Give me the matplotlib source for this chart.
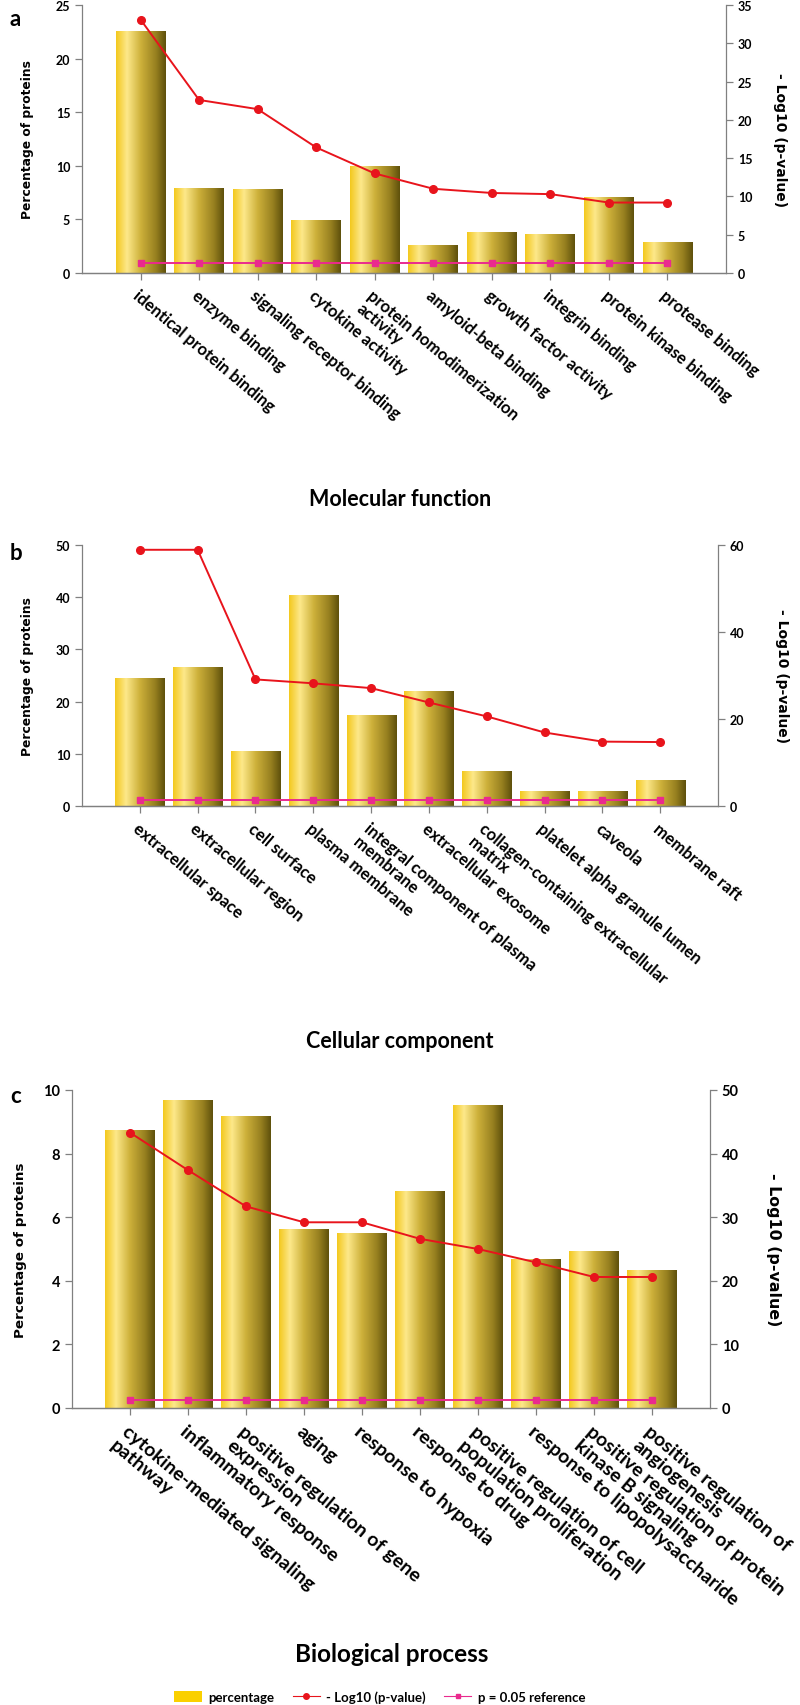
import numpy as np
import matplotlib.pyplot as plt
from matplotlib.colors import LinearSegmentedColormap
from matplotlib.patches import Patch
from matplotlib.lines import Line2D

# Molecular function
mf_terms = ['identical protein binding', 'enzyme binding', 'signaling receptor binding',
            'cytokine activity', 'protein homodimerization\nactivity', 'amyloid-beta binding',
            'growth factor activity', 'integrin binding', 'protein kinase binding', 'protease binding']
mf_pct = [22.5, 7.9, 7.8, 4.9, 9.9, 2.6, 3.8, 3.55, 7.0, 2.85]
mf_logp = [33.1, 22.6, 21.4, 16.4, 13.0, 11.0, 10.45, 10.3, 9.2, 9.2]

# Cellular component
cc_terms = ['extracellular space', 'extracellular region', 'cell surface', 'plasma membrane',
            'integral component of plasma\nmembrane', 'extracellular exosome',
            'collagen-containing extracellular\nmatrix', 'platelet alpha granule lumen',
            'caveola', 'membrane raft']
cc_pct = [24.4, 26.5, 10.5, 40.3, 17.3, 22.0, 6.7, 2.7, 2.7, 4.8]
cc_logp = [58.9, 58.9, 29.1, 28.2, 27.1, 23.8, 20.6, 16.9, 14.8, 14.7]

# Biological process
bp_terms = ['cytokine-mediated signaling\npathway', 'inflammatory response',
            'positive regulation of gene\nexpression', 'aging', 'response to hypoxia',
            'response to drug', 'positive regulation of cell\npopulation proliferation',
            'response to lipopolysaccharide', 'positive regulation of protein\nkinase B signaling',
            'positive regulation of\nangiogenesis']
bp_pct = [8.74, 9.68, 9.17, 5.61, 5.50, 6.80, 9.51, 4.66, 4.92, 4.31]
bp_logp = [43.3, 37.4, 31.7, 29.2, 29.2, 26.6, 25.0, 22.9, 20.6, 20.6]

p_ref = -np.log10(0.05)

W, H = 800, 1706
RED = '#E8141C'
PINK = '#EA2A8E'
GRAY = '#808080'
gold = LinearSegmentedColormap.from_list(
    'gold', [(0, '#F3C81C'), (0.22, '#FDE88A'), (0.5, '#CDB03A'), (0.8, '#978020'), (1, '#5E500C')])

fig = plt.figure(figsize=(W / 100, H / 100), dpi=100)


def px_rect(l, r, top, bot):
    return [l / W, 1 - bot / H, (r - l) / W, (bot - top) / H]


def panel(rect, terms, pct, logp, lmax, lstep, rmax, rstep,
          lab_fs, tick_fs, lylab_fs, rylab_fs, lx, rx):
    ax = fig.add_axes(rect)
    x = np.arange(len(terms))
    bars = ax.bar(x, pct, width=0.85, color='none', zorder=2)
    grad = np.linspace(0, 1, 256).reshape(1, -1)
    for b in bars:
        x0, w, h = b.get_x(), b.get_width(), b.get_height()
        ax.imshow(grad, cmap=gold, extent=(x0, x0 + w, 0, h), aspect='auto', zorder=2)
    ax.set_xlim(-1, len(terms))
    ax.set_ylim(0, lmax)
    ax.set_yticks(np.arange(0, lmax + 0.01, lstep))
    ax.set_xticks(x)
    ax.set_xticklabels(terms, rotation=-40, ha='left', va='top', rotation_mode='anchor',
                       fontsize=lab_fs, fontweight='bold', family='Lato', linespacing=1.1)
    ax2 = ax.twinx()
    ax2.plot(x, logp, color=RED, lw=1.4, marker='o', ms=5.5, zorder=4)
    ax2.plot(x, [p_ref] * len(x), color=PINK, lw=1.4, marker='s', ms=4.5, zorder=4)
    ax2.set_ylim(0, rmax)
    ax2.set_yticks(np.arange(0, rmax + 0.01, rstep))
    for a in (ax, ax2):
        a.spines['top'].set_visible(False)
        for s in a.spines.values():
            s.set_color(GRAY)
            s.set_linewidth(0.9)
        a.tick_params(colors=GRAY, width=0.9, length=5, labelcolor='black')
        for t in a.get_yticklabels():
            t.set_fontsize(tick_fs)
            t.set_family('Lato')
            t.set_fontweight('bold')
    ax.spines['right'].set_visible(False)
    ax2.spines['left'].set_visible(False)
    ax.tick_params(axis='x', pad=5)
    ax.text(lx, 0.5, 'Percentage of proteins', transform=ax.transAxes, rotation=90,
            ha='center', va='center', fontsize=lylab_fs, fontweight='bold', family='DejaVu Sans')
    ax.text(rx, 0.5, '- Log10 (p-value)', transform=ax.transAxes, rotation=270,
            ha='center', va='center', fontsize=rylab_fs, fontweight='bold', family='DejaVu Sans')
    return ax


panel(px_rect(82, 726, 6, 274), mf_terms, mf_pct, mf_logp, 25, 5, 35, 5,
      12, 9, 8.8, 10, -0.084, 1.084)
panel(px_rect(82, 718, 546, 807), cc_terms, cc_pct, cc_logp, 50, 10, 60, 20,
      12, 9, 8.8, 10, -0.085, 1.10)
panel(px_rect(72, 710, 1091, 1409), bp_terms, bp_pct, bp_logp, 10, 2, 50, 10,
      14, 10.5, 9.7, 11.4, -0.081, 1.10)

for letter, yy in (('a', 20), ('b', 553), ('c', 1097)):
    fig.text(10 / W, 1 - yy / H, letter, ha='left', va='center', fontsize=16,
             fontweight='bold', family='Lato')

fig.text(0.5, 1 - 500 / H, 'Molecular function', ha='center', va='center',
         fontsize=15.5, fontweight='bold', family='Lato')
fig.text(0.5, 1 - 1042 / H, 'Cellular component', ha='center', va='center',
         fontsize=15.5, fontweight='bold', family='Lato')
fig.text(0.49, 1 - 1655 / H, 'Biological process', ha='center', va='center',
         fontsize=17.5, fontweight='bold', family='Lato')

handles = [Patch(facecolor='#FAD000', edgecolor='none'),
           Line2D([], [], color=RED, lw=0.8, marker='o', ms=4),
           Line2D([], [], color=PINK, lw=0.8, marker='s', ms=3.5)]
fig.legend(handles, ['percentage', '- Log10 (p-value)', 'p = 0.05 reference'],
           loc='center', bbox_to_anchor=(0.475, 1 - 1698 / H), ncol=3, frameon=False,
           prop={'family': 'Lato', 'weight': 'bold', 'size': 9.5},
           handlelength=2.05, handleheight=0.9, columnspacing=1.4, handletextpad=0.5)

fig.savefig('out.png', dpi=100)
